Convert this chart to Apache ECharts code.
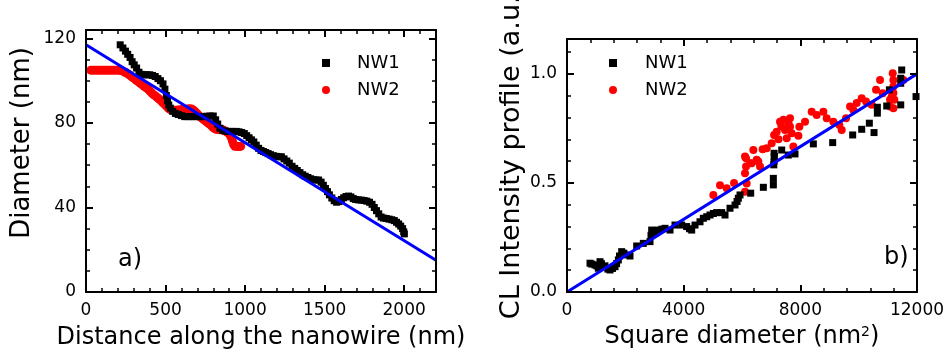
<!DOCTYPE html>
<html><head><meta charset="utf-8">
<script src="https://cdn.jsdelivr.net/npm/echarts@6/dist/echarts.min.js"></script>
<style>html,body{margin:0;padding:0;background:#fff}#c{width:949px;height:349px}</style>
</head><body><div id="c"></div>
<script>
// ---- data (panel a: diameter vs distance) ----
const leftNW1 = [[215,117],[232,115.5],[248,114],[262,112.5],[277,111],[290,109],[303,107.5],[318,106],[333,104],[348,103],[365,102.8],[382,102.8],[400,102.8],[418,102.5],[435,102],[452,101],[468,100],[484,98.5],[496,96],[505,93],[512,90.5],[520,88.5],[530,87],[545,85.5],[562,84.5],[580,84],[600,83.5],[620,83],[640,83],[660,83],[680,83],[700,83],[720,83],[740,83],[760,83.2],[780,83.3],[800,83.3],[815,81.5],[828,79.5],[842,77.5],[858,76.5],[875,76.2],[892,76],[910,76],[928,76],[945,76],[962,75.8],[978,75.5],[995,75],[1010,74],[1025,73],[1040,72],[1055,71],[1070,69.5],[1085,68],[1100,67],[1115,66.5],[1130,66],[1145,65.5],[1160,65],[1178,64.5],[1195,64.2],[1212,64],[1228,64],[1245,63],[1262,62],[1278,61],[1295,59.5],[1312,58.5],[1328,57.5],[1345,56.5],[1362,55.5],[1378,54.8],[1395,54.2],[1412,53.6],[1428,53.2],[1445,53],[1462,53],[1478,52],[1492,50.5],[1505,49],[1518,47.5],[1530,46],[1545,44.5],[1560,43.2],[1575,42.5],[1590,42.8],[1605,43.8],[1620,44.6],[1635,45.2],[1650,45.4],[1665,45],[1680,44.2],[1695,43.8],[1712,43.6],[1730,43.5],[1748,43.3],[1765,43],[1782,42.5],[1798,41.5],[1812,40],[1826,38.5],[1840,37],[1855,35.5],[1870,35],[1887,34.8],[1905,34.5],[1922,34.2],[1938,33.8],[1952,33],[1965,32.2],[1978,31.2],[1990,30],[1997,28.5],[2001,27.5]];
const leftNW2 = [[30,105],[42,105],[54,105],[66,105],[78,105],[90,105],[102,105],[114,105],[126,105],[138,105],[150,105],[162,105],[174,105],[186,105],[198,105],[210,105],[222,104.8],[235,104.4],[246,104],[256,103.6],[268,103],[280,102.3],[292,101.6],[304,101],[316,100.2],[328,99.6],[340,98.9],[352,98.2],[364,97.5],[376,96.8],[388,96.2],[400,95.2],[412,94.3],[424,93.4],[436,92.8],[448,92],[460,91.3],[472,90.5],[484,89.5],[496,88.7],[508,87.8],[519,86.9],[530,86.4],[545,86.1],[561,86],[577,86.1],[593,86.3],[608,86.4],[622,86.5],[636,86.6],[650,86.7],[664,86.6],[676,86],[688,85.2],[698,84.4],[710,83.5],[722,82.7],[734,82],[746,81.2],[758,80.5],[770,79.8],[782,79.1],[794,78.2],[806,77.5],[818,77],[830,76.9],[843,76.8],[855,76.8],[867,76.5],[879,76],[891,75.5],[902,74.8],[912,73.2],[920,71.5],[928,69.8],[936,69],[948,68.9],[960,68.9],[972,68.9]];
const leftFit = [[0,117],[2200,15]];

// ---- data (panel b: CL intensity vs square diameter) ----
const rightNW1 = [[789,0.132],[850,0.128],[960,0.124],[1020,0.12],[1074,0.109],[1131,0.139],[1180,0.13],[1246,0.116],[1300,0.12],[1400,0.105],[1474,0.101],[1560,0.108],[1646,0.116],[1700,0.13],[1760,0.147],[1800,0.165],[1874,0.185],[1950,0.178],[2046,0.17],[2160,0.165],[2389,0.211],[2617,0.223],[2846,0.231],[2880,0.26],[2903,0.284],[3017,0.269],[3131,0.284],[3250,0.288],[3360,0.292],[3532,0.284],[3703,0.307],[3932,0.307],[4103,0.300],[4200,0.29],[4275,0.284],[4389,0.307],[4560,0.322],[4674,0.338],[4790,0.345],[4903,0.353],[5020,0.36],[5132,0.364],[5303,0.364],[5418,0.353],[5589,0.384],[5761,0.399],[5830,0.415],[5875,0.430],[5932,0.445],[6298,0.453],[6732,0.480],[7075,0.491],[7075,0.521],[7090,0.583],[7098,0.60],[7110,0.621],[7100,0.636],[7361,0.651],[7589,0.628],[7818,0.633],[8446,0.679],[9109,0.685],[9795,0.720],[10104,0.746],[10366,0.774],[10527,0.731],[10641,0.820],[10641,0.847],[10962,0.853],[11053,0.927],[11442,0.957],[11442,0.98],[11476,1.018],[11442,0.858],[11967,0.896]];
const rightNW2 = [[5017,0.445],[5246,0.489],[5475,0.476],[5727,0.500],[6103,0.460],[6160,0.498],[6103,0.544],[6138,0.575],[6275,0.590],[6103,0.621],[6138,0.613],[6332,0.590],[6389,0.651],[6503,0.606],[6560,0.598],[6618,0.575],[6709,0.654],[6846,0.659],[7018,0.682],[7100,0.72],[7190,0.735],[7250,0.70],[7303,0.781],[7350,0.76],[7420,0.79],[7475,0.743],[7532,0.705],[7600,0.77],[7646,0.797],[7646,0.758],[7703,0.728],[7760,0.667],[7932,0.716],[7966,0.758],[8161,0.781],[8389,0.827],[8561,0.812],[8789,0.827],[8904,0.797],[9132,0.781],[9338,0.766],[9418,0.743],[9567,0.797],[9704,0.850],[9818,0.835],[9932,0.866],[10104,0.888],[10253,0.873],[10447,0.858],[10595,0.927],[10733,0.972],[10824,0.911],[11076,0.850],[11133,0.896],[11167,1.003],[11190,0.972],[11190,0.942],[11190,0.912],[11224,0.881],[11190,0.843],[11076,0.881],[11533,0.972]];
const rightFit = [[0,0],[12000,1.0]];

const seriesNames = ['NW1','NW2'];
const labelsA = { x: 'Distance along the nanowire (nm)', y: 'Diameter (nm)', tag: 'a)' };
const labelsB = { x: 'Square diameter (nm{sup|2})', y: 'CL Intensity profile (a.u.)', tag: 'b)' };

const FONT = 'DejaVu Sans';
const BLACK = '#000';
const BLUE = '#0000ff';
const RED = '#ff0000';

function axis(o) {
  return {
    type: 'value', gridIndex: o.grid, position: o.pos, min: o.min, max: o.max, interval: o.interval,
    splitLine: { show: false },
    axisLine: { show: !!o.line, onZero: false, lineStyle: { color: BLACK, width: 2 } },
    axisTick: { show: true, inside: true, length: o.len, lineStyle: { color: BLACK, width: o.len > 5 ? 2 : 1.5 } },
    axisLabel: { show: !!o.label, showMaxLabel: o.showMax !== false, showMinLabel: true, color: BLACK, fontFamily: FONT, fontSize: 17, margin: 10,
                 formatter: o.fmt || (v => String(v)) },
    name: o.name || '', nameLocation: 'middle', nameGap: o.nameGap || 0,
    nameTextStyle: Object.assign({ color: BLACK, fontFamily: FONT, fontSize: 24 }, o.nameStyle || {}),
    z: 5
  };
}

const xAxis = [
  axis({ grid: 0, pos: 'bottom', min: 0, max: 2200, interval: 500, len: 7, line: true, label: true, showMax: false, name: labelsA.x, nameGap: 34 }),
  axis({ grid: 0, pos: 'bottom', min: 0, max: 2200, interval: 100, len: 4 }),
  axis({ grid: 0, pos: 'top', min: 0, max: 2200, interval: 500, len: 7, line: true }),
  axis({ grid: 0, pos: 'top', min: 0, max: 2200, interval: 100, len: 4 }),
  axis({ grid: 1, pos: 'bottom', min: 0, max: 12000, interval: 4000, len: 7, line: true, label: true, name: labelsB.x, nameGap: 33,
         nameStyle: { rich: { sup: { fontSize: 14, fontFamily: FONT, color: BLACK, verticalAlign: 'top' } } } }),
  axis({ grid: 1, pos: 'bottom', min: 0, max: 12000, interval: 800, len: 4 }),
  axis({ grid: 1, pos: 'top', min: 0, max: 12000, interval: 4000, len: 7, line: true }),
  axis({ grid: 1, pos: 'top', min: 0, max: 12000, interval: 800, len: 4 })
];
const yAxis = [
  axis({ grid: 0, pos: 'left', min: 0, max: 124, interval: 40, len: 7, line: true, label: true, showMax: false, name: labelsA.y, nameGap: 51,
         nameStyle: { fontSize: 26, padding: [0, 0, 0, 36] } }),
  axis({ grid: 0, pos: 'left', min: 0, max: 124, interval: 10, len: 4 }),
  axis({ grid: 0, pos: 'right', min: 0, max: 124, interval: 40, len: 7, line: true }),
  axis({ grid: 0, pos: 'right', min: 0, max: 124, interval: 10, len: 4 }),
  axis({ grid: 1, pos: 'left', min: 0, max: 1.16, interval: 0.5, len: 7, line: true, label: true, showMax: false, fmt: v => v.toFixed(1),
         name: labelsB.y, nameGap: 42, nameStyle: { fontSize: 27, padding: [0, 0, 0, 27] } }),
  axis({ grid: 1, pos: 'left', min: 0, max: 1.16, interval: 0.1, len: 4 }),
  axis({ grid: 1, pos: 'right', min: 0, max: 1.16, interval: 0.5, len: 7, line: true }),
  axis({ grid: 1, pos: 'right', min: 0, max: 1.16, interval: 0.1, len: 4 })
];

function legend(left, textPad) {
  return {
    data: [{ name: seriesNames[0], icon: 'rect', itemStyle: { opacity: 1 } }, { name: seriesNames[1], icon: 'circle', itemStyle: { opacity: 1 } }],
    orient: 'vertical', left: left, top: 53, padding: 0, itemGap: 7,
    itemWidth: 8, itemHeight: 8, selectedMode: false,
    textStyle: { color: BLACK, fontFamily: FONT, fontSize: 18, lineHeight: 20, padding: [0, 0, 0, textPad] }
  };
}

const chart = echarts.init(document.getElementById('c'), null, { renderer: 'canvas' });
chart.setOption({
  animation: false,
  backgroundColor: '#fff',
  grid: [
    { left: 86, right: 513, top: 30, bottom: 57, outerBoundsMode: 'none', containLabel: false },
    { left: 567, right: 32, top: 39, bottom: 57, outerBoundsMode: 'none', containLabel: false }
  ],
  xAxis, yAxis,
  legend: [legend(322, 22), legend(609, 23)],
  graphic: [
    { type: 'text', left: 118, top: 248, style: { text: labelsA.tag, fontFamily: FONT, fontSize: 24, fill: BLACK } },
    { type: 'text', left: 884, top: 246, style: { text: labelsB.tag, fontFamily: FONT, fontSize: 24, fill: BLACK } }
  ],
  series: [
    { name: seriesNames[1], type: 'scatter', xAxisIndex: 0, yAxisIndex: 0, data: leftNW2, symbol: 'circle', symbolSize: 9, itemStyle: { color: RED, opacity: 1 }, z: 2 },
    { name: seriesNames[0], type: 'scatter', xAxisIndex: 0, yAxisIndex: 0, data: leftNW1, symbol: 'rect', symbolSize: 7, itemStyle: { color: BLACK, opacity: 1 }, z: 3 },
    { type: 'line', xAxisIndex: 0, yAxisIndex: 0, data: leftFit, showSymbol: false, symbol: 'none', lineStyle: { color: BLUE, width: 3 }, z: 4 },
    { name: seriesNames[1], type: 'scatter', xAxisIndex: 4, yAxisIndex: 4, data: rightNW2, symbol: 'circle', symbolSize: 8, itemStyle: { color: RED, opacity: 1 }, z: 2 },
    { name: seriesNames[0], type: 'scatter', xAxisIndex: 4, yAxisIndex: 4, data: rightNW1, symbol: 'rect', symbolSize: 7, itemStyle: { color: BLACK, opacity: 1 }, z: 3 },
    { type: 'line', xAxisIndex: 4, yAxisIndex: 4, data: rightFit, showSymbol: false, symbol: 'none', lineStyle: { color: BLUE, width: 3 }, z: 4 }
  ]
});
</script>
</body></html>
